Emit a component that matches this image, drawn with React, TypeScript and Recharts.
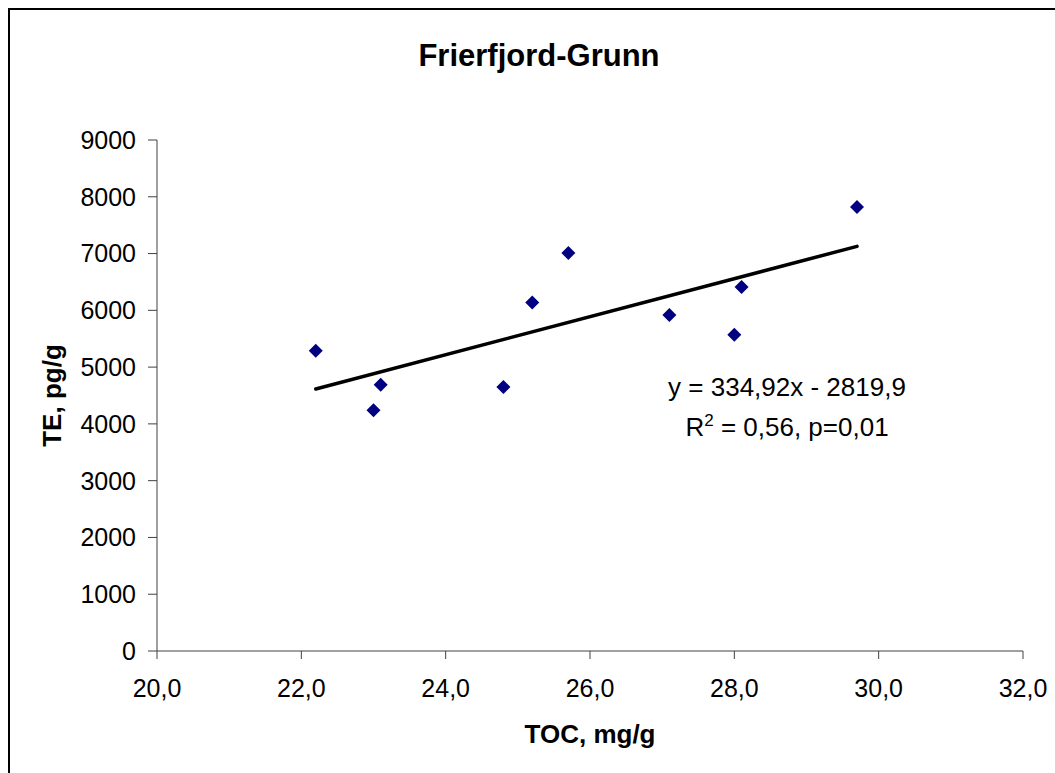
import { Label, ReferenceLine, Scatter, ScatterChart, XAxis, YAxis } from "recharts";

const tocValues = [22.2, 23.0, 23.1, 24.8, 25.2, 25.7, 27.1, 28.0, 28.1, 29.7];
const teValues = [5290, 4240, 4690, 4650, 6140, 7010, 5920, 5570, 6410, 7820];
const trendX = [22.2, 29.7];
const trendY = [4615, 7127];
const xTicks = [20, 22, 24, 26, 28, 30, 32];
const yTicks = [0, 1000, 2000, 3000, 4000, 5000, 6000, 7000, 8000, 9000];

const points = tocValues.map((x, i) => ({ x, y: teValues[i] }));
const FONT = "'Liberation Sans', Arial, sans-serif";
const AXIS = "#404040";

const Diamond = (props: any) => {
  const { cx, cy } = props;
  const r = 7;
  return <path d={`M${cx},${cy - r}L${cx + r},${cy}L${cx},${cy + r}L${cx - r},${cy}Z`} fill="#000080" />;
};

const fmtX = (v: number) => v.toFixed(1).replace(".", ",");

const App = () => {
  return (
    <div style={{ position: "absolute", left: 8, top: 8, width: 1047, height: 765, overflow: "hidden" }}>
      <div
        style={{
          position: "relative",
          width: 1100,
          height: 800,
          border: "2px solid #000",
          fontFamily: FONT,
          background: "#fff",
        }}
      >
        <div
          style={{
            position: "absolute",
            left: 0,
            top: 30,
            width: 1058,
            textAlign: "center",
            fontSize: 31,
            lineHeight: "31px",
            fontWeight: "bold",
          }}
        >
          Frierfjord-Grunn
        </div>
        <ScatterChart width={1045} height={763} margin={{ top: 130, right: 32, bottom: 22, left: 0 }}>
          <XAxis
            type="number"
            dataKey="x"
            domain={[20, 32]}
            ticks={xTicks}
            tickFormatter={fmtX}
            height={100}
            tickSize={8}
            tickMargin={20}
            stroke={AXIS}
            tick={{ fill: "#000", fontSize: 25, fontFamily: FONT }}
          >
            <Label
              value="TOC, mg/g"
              position="insideBottom"
              offset={8}
              style={{ fontSize: 26, fontWeight: "bold", fill: "#000", fontFamily: FONT }}
            />
          </XAxis>
          <YAxis
            type="number"
            dataKey="y"
            domain={[0, 9000]}
            ticks={yTicks}
            width={147}
            tickSize={9}
            tickMargin={12}
            stroke={AXIS}
            tick={{ fill: "#000", fontSize: 25, fontFamily: FONT }}
          >
            <Label
              value="TE, pg/g"
              angle={-90}
              position="insideLeft"
              offset={42}
              style={{ fontSize: 26, fontWeight: "bold", fill: "#000", fontFamily: FONT, textAnchor: "middle" }}
            />
          </YAxis>
          <ReferenceLine
            segment={[
              { x: trendX[0], y: trendY[0] },
              { x: trendX[1], y: trendY[1] },
            ]}
            stroke="#000"
            strokeWidth={3.5}
            strokeLinecap="round"
          />
          <Scatter data={points} shape={Diamond} isAnimationActive={false} />
        </ScatterChart>
        <div
          style={{
            position: "absolute",
            left: 627,
            top: 364,
            width: 300,
            textAlign: "center",
            fontSize: 26,
            lineHeight: "26px",
            whiteSpace: "nowrap",
          }}
        >
          y = 334,92x - 2819,9
        </div>
        <div
          style={{
            position: "absolute",
            left: 627,
            top: 404,
            width: 300,
            textAlign: "center",
            fontSize: 26,
            lineHeight: "26px",
            whiteSpace: "nowrap",
          }}
        >
          R<span style={{ fontSize: 17, position: "relative", top: -10 }}>2</span> = 0,56, p=0,01
        </div>
      </div>
    </div>
  );
};

export default App;
